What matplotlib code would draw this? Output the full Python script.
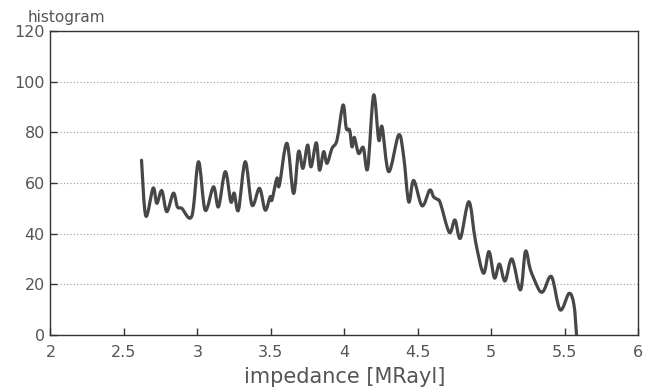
import matplotlib
matplotlib.use("Agg")
import matplotlib.pyplot as plt
from matplotlib.path import Path
from matplotlib.patches import PathPatch

impedance = [2.620, 2.649, 2.699, 2.724, 2.758, 2.792, 2.837, 2.864, 2.894, 2.963,
             3.008, 3.053, 3.110, 3.144, 3.190, 3.228, 3.251, 3.280, 3.326, 3.372,
             3.423, 3.462, 3.496, 3.508, 3.542, 3.558, 3.610, 3.655, 3.689, 3.719,
             3.751, 3.774, 3.810, 3.832, 3.860, 3.883, 3.917, 3.951, 3.992, 4.014,
             4.037, 4.053, 4.069, 4.098, 4.130, 4.160, 4.200, 4.235, 4.258, 4.303,
             4.371, 4.405, 4.439, 4.473, 4.530, 4.582, 4.609, 4.635, 4.655, 4.716,
             4.754, 4.791, 4.849, 4.894, 4.948, 4.986, 5.023, 5.057, 5.095, 5.142,
             5.200, 5.234, 5.268, 5.316, 5.336, 5.359, 5.412, 5.470, 5.531, 5.564,
             5.582]
counts = [69, 47, 58, 52, 57, 48.7, 56, 50.6, 50, 47,
          68.4, 49.3, 58.5, 50.6, 64.5, 52.6, 56, 49.3, 68.4, 51.3,
          57.9, 49.3, 54.6, 53.3, 61.9, 59, 75.7, 55.9, 72.4, 65.8,
          75, 66.4, 75.9, 65.1, 72.4, 67.8, 73.7, 77, 90.8, 81.6,
          80.9, 74.3, 78, 71.7, 74, 65.8, 94.7, 77, 82.2, 64.5,
          79, 70.4, 52.6, 61, 51, 57.2, 54.5, 53.5, 52, 40.5,
          45.4, 38.2, 52.6, 37, 24.4, 32.9, 22.5, 28, 21.3, 30,
          17.8, 33, 25.7, 19, 17.1, 17.5, 23, 9.9, 16.4, 12,
          0]

xticks = [2, 2.5, 3, 3.5, 4, 4.5, 5, 5.5, 6]
xticklabels = ["2", "2.5", "3", "3.5", "4", "4.5", "5", "5.5", "6"]
yticks = [0, 20, 40, 60, 80, 100, 120]

plt.rcParams['font.family'] = ['DejaVu Sans']
fig = plt.figure(figsize=(6.47, 3.89), dpi=100)
ax = fig.add_axes([0.078, 0.139, 0.908, 0.781])
ax.set_xlim(2, 6)
ax.set_ylim(0, 120)

# smooth curve through the data points (Catmull-Rom as cubic Bezier path)
n = len(impedance)
verts = [(impedance[0], counts[0])]
codes = [Path.MOVETO]
for i in range(n - 1):
    x0, y0 = (impedance[i - 1], counts[i - 1]) if i > 0 else (impedance[i], counts[i])
    x1, y1 = impedance[i], counts[i]
    x2, y2 = impedance[i + 1], counts[i + 1]
    x3, y3 = (impedance[i + 2], counts[i + 2]) if i + 2 < n else (x2, y2)
    c1 = (x1 + (x2 - x0) / 6.0, y1 + (y2 - y0) / 6.0)
    c2 = (x2 - (x3 - x1) / 6.0, y2 - (y3 - y1) / 6.0)
    verts += [c1, c2, (x2, y2)]
    codes += [Path.CURVE4, Path.CURVE4, Path.CURVE4]
ax.add_patch(PathPatch(Path(verts, codes), facecolor="none", edgecolor="#474747",
                       lw=2.3, joinstyle="round", capstyle="round", zorder=3))

ax.set_xticks(xticks)
ax.set_xticklabels(xticklabels)
ax.set_yticks(yticks)
ax.tick_params(direction="in", length=5, width=1, colors="#333333", labelsize=11.5, labelcolor="#555555")
ax.tick_params(axis="x", pad=7)
ax.tick_params(axis="y", pad=4)
ax.yaxis.grid(True, linestyle=(0, (1, 2)), color="#999999", lw=0.8)
for s in ax.spines.values():
    s.set_color("#333333")
    s.set_linewidth(1.0)
ax.set_xlabel("impedance [MRayl]", fontsize=15, color="#555555", labelpad=5)
fig.text(0.043, 0.955, "histogram", fontsize=11, color="#555555", ha="left", va="center")
fig.savefig("out.png", dpi=100)
